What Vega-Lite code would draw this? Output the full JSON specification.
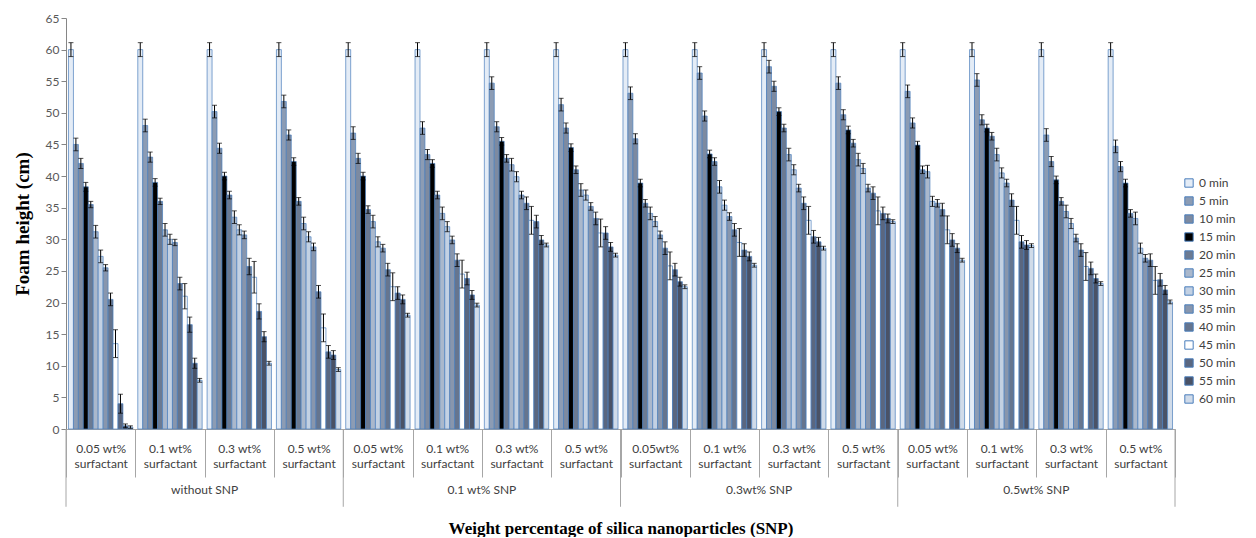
{
"$schema": "https://vega.github.io/schema/vega-lite/v6.json",
"background": "white",
"padding": {"left": 13, "top": 12, "right": 0, "bottom": 0},
"width": 1109,
"height": 411,
"data": {"values": [
{"s":"without SNP","f":"0.05 wt% surfactant","t":"0 min","v":60,"e":1.1},
{"s":"without SNP","f":"0.05 wt% surfactant","t":"5 min","v":45,"e":1},
{"s":"without SNP","f":"0.05 wt% surfactant","t":"10 min","v":42,"e":0.8},
{"s":"without SNP","f":"0.05 wt% surfactant","t":"15 min","v":38.3,"e":0.7},
{"s":"without SNP","f":"0.05 wt% surfactant","t":"20 min","v":35.5,"e":0.5},
{"s":"without SNP","f":"0.05 wt% surfactant","t":"25 min","v":31.2,"e":1},
{"s":"without SNP","f":"0.05 wt% surfactant","t":"30 min","v":27.3,"e":1},
{"s":"without SNP","f":"0.05 wt% surfactant","t":"35 min","v":25.5,"e":0.5},
{"s":"without SNP","f":"0.05 wt% surfactant","t":"40 min","v":20.5,"e":1},
{"s":"without SNP","f":"0.05 wt% surfactant","t":"45 min","v":13.5,"e":2.2},
{"s":"without SNP","f":"0.05 wt% surfactant","t":"50 min","v":4,"e":1.5},
{"s":"without SNP","f":"0.05 wt% surfactant","t":"55 min","v":0.5,"e":0.3},
{"s":"without SNP","f":"0.05 wt% surfactant","t":"60 min","v":0.3,"e":0.2},
{"s":"without SNP","f":"0.1 wt% surfactant","t":"0 min","v":60,"e":1.1},
{"s":"without SNP","f":"0.1 wt% surfactant","t":"5 min","v":48,"e":1},
{"s":"without SNP","f":"0.1 wt% surfactant","t":"10 min","v":43,"e":0.8},
{"s":"without SNP","f":"0.1 wt% surfactant","t":"15 min","v":39,"e":0.6},
{"s":"without SNP","f":"0.1 wt% surfactant","t":"20 min","v":36,"e":0.5},
{"s":"without SNP","f":"0.1 wt% surfactant","t":"25 min","v":31.5,"e":1},
{"s":"without SNP","f":"0.1 wt% surfactant","t":"30 min","v":30,"e":0.8},
{"s":"without SNP","f":"0.1 wt% surfactant","t":"35 min","v":29.5,"e":0.5},
{"s":"without SNP","f":"0.1 wt% surfactant","t":"40 min","v":23,"e":1},
{"s":"without SNP","f":"0.1 wt% surfactant","t":"45 min","v":21,"e":2},
{"s":"without SNP","f":"0.1 wt% surfactant","t":"50 min","v":16.5,"e":1.2},
{"s":"without SNP","f":"0.1 wt% surfactant","t":"55 min","v":10.4,"e":0.8},
{"s":"without SNP","f":"0.1 wt% surfactant","t":"60 min","v":7.7,"e":0.3},
{"s":"without SNP","f":"0.3 wt% surfactant","t":"0 min","v":60,"e":1.1},
{"s":"without SNP","f":"0.3 wt% surfactant","t":"5 min","v":50.2,"e":1},
{"s":"without SNP","f":"0.3 wt% surfactant","t":"10 min","v":44.4,"e":0.8},
{"s":"without SNP","f":"0.3 wt% surfactant","t":"15 min","v":40,"e":0.6},
{"s":"without SNP","f":"0.3 wt% surfactant","t":"20 min","v":37,"e":0.6},
{"s":"without SNP","f":"0.3 wt% surfactant","t":"25 min","v":33.5,"e":1},
{"s":"without SNP","f":"0.3 wt% surfactant","t":"30 min","v":31.5,"e":0.8},
{"s":"without SNP","f":"0.3 wt% surfactant","t":"35 min","v":30.7,"e":0.6},
{"s":"without SNP","f":"0.3 wt% surfactant","t":"40 min","v":25.7,"e":1.3},
{"s":"without SNP","f":"0.3 wt% surfactant","t":"45 min","v":24,"e":2.5},
{"s":"without SNP","f":"0.3 wt% surfactant","t":"50 min","v":18.6,"e":1.2},
{"s":"without SNP","f":"0.3 wt% surfactant","t":"55 min","v":14.6,"e":0.8},
{"s":"without SNP","f":"0.3 wt% surfactant","t":"60 min","v":10.4,"e":0.3},
{"s":"without SNP","f":"0.5 wt% surfactant","t":"0 min","v":60,"e":1.1},
{"s":"without SNP","f":"0.5 wt% surfactant","t":"5 min","v":51.8,"e":1},
{"s":"without SNP","f":"0.5 wt% surfactant","t":"10 min","v":46.5,"e":0.8},
{"s":"without SNP","f":"0.5 wt% surfactant","t":"15 min","v":42.3,"e":0.6},
{"s":"without SNP","f":"0.5 wt% surfactant","t":"20 min","v":36,"e":0.6},
{"s":"without SNP","f":"0.5 wt% surfactant","t":"25 min","v":32.5,"e":1},
{"s":"without SNP","f":"0.5 wt% surfactant","t":"30 min","v":30.4,"e":0.8},
{"s":"without SNP","f":"0.5 wt% surfactant","t":"35 min","v":28.8,"e":0.6},
{"s":"without SNP","f":"0.5 wt% surfactant","t":"40 min","v":21.7,"e":1},
{"s":"without SNP","f":"0.5 wt% surfactant","t":"45 min","v":16,"e":2.2},
{"s":"without SNP","f":"0.5 wt% surfactant","t":"50 min","v":12.2,"e":1},
{"s":"without SNP","f":"0.5 wt% surfactant","t":"55 min","v":11.7,"e":0.7},
{"s":"without SNP","f":"0.5 wt% surfactant","t":"60 min","v":9.4,"e":0.3},
{"s":"0.1 wt% SNP","f":"0.05 wt% surfactant","t":"0 min","v":60,"e":1.1},
{"s":"0.1 wt% SNP","f":"0.05 wt% surfactant","t":"5 min","v":46.8,"e":1},
{"s":"0.1 wt% SNP","f":"0.05 wt% surfactant","t":"10 min","v":42.8,"e":0.8},
{"s":"0.1 wt% SNP","f":"0.05 wt% surfactant","t":"15 min","v":40,"e":0.6},
{"s":"0.1 wt% SNP","f":"0.05 wt% surfactant","t":"20 min","v":34.7,"e":0.6},
{"s":"0.1 wt% SNP","f":"0.05 wt% surfactant","t":"25 min","v":32.8,"e":1},
{"s":"0.1 wt% SNP","f":"0.05 wt% surfactant","t":"30 min","v":29.6,"e":0.8},
{"s":"0.1 wt% SNP","f":"0.05 wt% surfactant","t":"35 min","v":28.6,"e":0.6},
{"s":"0.1 wt% SNP","f":"0.05 wt% surfactant","t":"40 min","v":25.2,"e":1},
{"s":"0.1 wt% SNP","f":"0.05 wt% surfactant","t":"45 min","v":22.5,"e":2.2},
{"s":"0.1 wt% SNP","f":"0.05 wt% surfactant","t":"50 min","v":21.5,"e":1},
{"s":"0.1 wt% SNP","f":"0.05 wt% surfactant","t":"55 min","v":20.5,"e":0.7},
{"s":"0.1 wt% SNP","f":"0.05 wt% surfactant","t":"60 min","v":18,"e":0.3},
{"s":"0.1 wt% SNP","f":"0.1 wt% surfactant","t":"0 min","v":60,"e":1.1},
{"s":"0.1 wt% SNP","f":"0.1 wt% surfactant","t":"5 min","v":47.6,"e":1},
{"s":"0.1 wt% SNP","f":"0.1 wt% surfactant","t":"10 min","v":43.4,"e":0.8},
{"s":"0.1 wt% SNP","f":"0.1 wt% surfactant","t":"15 min","v":42,"e":0.6},
{"s":"0.1 wt% SNP","f":"0.1 wt% surfactant","t":"20 min","v":37,"e":0.6},
{"s":"0.1 wt% SNP","f":"0.1 wt% surfactant","t":"25 min","v":34.1,"e":1},
{"s":"0.1 wt% SNP","f":"0.1 wt% surfactant","t":"30 min","v":32,"e":0.8},
{"s":"0.1 wt% SNP","f":"0.1 wt% surfactant","t":"35 min","v":29.9,"e":0.6},
{"s":"0.1 wt% SNP","f":"0.1 wt% surfactant","t":"40 min","v":26.7,"e":1},
{"s":"0.1 wt% SNP","f":"0.1 wt% surfactant","t":"45 min","v":24.5,"e":2.2},
{"s":"0.1 wt% SNP","f":"0.1 wt% surfactant","t":"50 min","v":23.8,"e":1},
{"s":"0.1 wt% SNP","f":"0.1 wt% surfactant","t":"55 min","v":21.2,"e":0.7},
{"s":"0.1 wt% SNP","f":"0.1 wt% surfactant","t":"60 min","v":19.6,"e":0.3},
{"s":"0.1 wt% SNP","f":"0.3 wt% surfactant","t":"0 min","v":60,"e":1.1},
{"s":"0.1 wt% SNP","f":"0.3 wt% surfactant","t":"5 min","v":54.7,"e":1},
{"s":"0.1 wt% SNP","f":"0.3 wt% surfactant","t":"10 min","v":47.8,"e":0.8},
{"s":"0.1 wt% SNP","f":"0.3 wt% surfactant","t":"15 min","v":45.5,"e":0.6},
{"s":"0.1 wt% SNP","f":"0.3 wt% surfactant","t":"20 min","v":42.8,"e":0.6},
{"s":"0.1 wt% SNP","f":"0.3 wt% surfactant","t":"25 min","v":41.8,"e":1},
{"s":"0.1 wt% SNP","f":"0.3 wt% surfactant","t":"30 min","v":39.9,"e":0.8},
{"s":"0.1 wt% SNP","f":"0.3 wt% surfactant","t":"35 min","v":37,"e":0.6},
{"s":"0.1 wt% SNP","f":"0.3 wt% surfactant","t":"40 min","v":35.7,"e":1},
{"s":"0.1 wt% SNP","f":"0.3 wt% surfactant","t":"45 min","v":33,"e":2.2},
{"s":"0.1 wt% SNP","f":"0.3 wt% surfactant","t":"50 min","v":32.8,"e":1},
{"s":"0.1 wt% SNP","f":"0.3 wt% surfactant","t":"55 min","v":29.9,"e":0.7},
{"s":"0.1 wt% SNP","f":"0.3 wt% surfactant","t":"60 min","v":29.1,"e":0.3},
{"s":"0.1 wt% SNP","f":"0.5 wt% surfactant","t":"0 min","v":60,"e":1.1},
{"s":"0.1 wt% SNP","f":"0.5 wt% surfactant","t":"5 min","v":51.3,"e":1},
{"s":"0.1 wt% SNP","f":"0.5 wt% surfactant","t":"10 min","v":47.6,"e":0.8},
{"s":"0.1 wt% SNP","f":"0.5 wt% surfactant","t":"15 min","v":44.5,"e":0.6},
{"s":"0.1 wt% SNP","f":"0.5 wt% surfactant","t":"20 min","v":41,"e":0.6},
{"s":"0.1 wt% SNP","f":"0.5 wt% surfactant","t":"25 min","v":37.8,"e":1},
{"s":"0.1 wt% SNP","f":"0.5 wt% surfactant","t":"30 min","v":37,"e":0.8},
{"s":"0.1 wt% SNP","f":"0.5 wt% surfactant","t":"35 min","v":35.2,"e":0.6},
{"s":"0.1 wt% SNP","f":"0.5 wt% surfactant","t":"40 min","v":33.3,"e":1},
{"s":"0.1 wt% SNP","f":"0.5 wt% surfactant","t":"45 min","v":31,"e":2.2},
{"s":"0.1 wt% SNP","f":"0.5 wt% surfactant","t":"50 min","v":31,"e":1},
{"s":"0.1 wt% SNP","f":"0.5 wt% surfactant","t":"55 min","v":28.8,"e":0.7},
{"s":"0.1 wt% SNP","f":"0.5 wt% surfactant","t":"60 min","v":27.5,"e":0.3},
{"s":"0.3wt% SNP","f":"0.05wt% surfactant","t":"0 min","v":60,"e":1.1},
{"s":"0.3wt% SNP","f":"0.05wt% surfactant","t":"5 min","v":53.1,"e":1},
{"s":"0.3wt% SNP","f":"0.05wt% surfactant","t":"10 min","v":45.9,"e":0.8},
{"s":"0.3wt% SNP","f":"0.05wt% surfactant","t":"15 min","v":38.9,"e":0.6},
{"s":"0.3wt% SNP","f":"0.05wt% surfactant","t":"20 min","v":35.7,"e":0.6},
{"s":"0.3wt% SNP","f":"0.05wt% surfactant","t":"25 min","v":34.1,"e":1},
{"s":"0.3wt% SNP","f":"0.05wt% surfactant","t":"30 min","v":32.8,"e":0.8},
{"s":"0.3wt% SNP","f":"0.05wt% surfactant","t":"35 min","v":30.7,"e":0.6},
{"s":"0.3wt% SNP","f":"0.05wt% surfactant","t":"40 min","v":28.6,"e":1},
{"s":"0.3wt% SNP","f":"0.05wt% surfactant","t":"45 min","v":25.8,"e":2.2},
{"s":"0.3wt% SNP","f":"0.05wt% surfactant","t":"50 min","v":25.2,"e":1},
{"s":"0.3wt% SNP","f":"0.05wt% surfactant","t":"55 min","v":23.3,"e":0.7},
{"s":"0.3wt% SNP","f":"0.05wt% surfactant","t":"60 min","v":22.5,"e":0.3},
{"s":"0.3wt% SNP","f":"0.1 wt% surfactant","t":"0 min","v":60,"e":1.1},
{"s":"0.3wt% SNP","f":"0.1 wt% surfactant","t":"5 min","v":56.3,"e":1},
{"s":"0.3wt% SNP","f":"0.1 wt% surfactant","t":"10 min","v":49.5,"e":0.8},
{"s":"0.3wt% SNP","f":"0.1 wt% surfactant","t":"15 min","v":43.5,"e":0.6},
{"s":"0.3wt% SNP","f":"0.1 wt% surfactant","t":"20 min","v":42.3,"e":0.6},
{"s":"0.3wt% SNP","f":"0.1 wt% surfactant","t":"25 min","v":38.3,"e":1},
{"s":"0.3wt% SNP","f":"0.1 wt% surfactant","t":"30 min","v":35.4,"e":0.8},
{"s":"0.3wt% SNP","f":"0.1 wt% surfactant","t":"35 min","v":33.6,"e":0.6},
{"s":"0.3wt% SNP","f":"0.1 wt% surfactant","t":"40 min","v":31.5,"e":1},
{"s":"0.3wt% SNP","f":"0.1 wt% surfactant","t":"45 min","v":29.5,"e":2.2},
{"s":"0.3wt% SNP","f":"0.1 wt% surfactant","t":"50 min","v":28.3,"e":1},
{"s":"0.3wt% SNP","f":"0.1 wt% surfactant","t":"55 min","v":27.3,"e":0.7},
{"s":"0.3wt% SNP","f":"0.1 wt% surfactant","t":"60 min","v":25.9,"e":0.3},
{"s":"0.3wt% SNP","f":"0.3 wt% surfactant","t":"0 min","v":60,"e":1.1},
{"s":"0.3wt% SNP","f":"0.3 wt% surfactant","t":"5 min","v":57.3,"e":1},
{"s":"0.3wt% SNP","f":"0.3 wt% surfactant","t":"10 min","v":54.2,"e":0.8},
{"s":"0.3wt% SNP","f":"0.3 wt% surfactant","t":"15 min","v":50.2,"e":0.6},
{"s":"0.3wt% SNP","f":"0.3 wt% surfactant","t":"20 min","v":47.6,"e":0.6},
{"s":"0.3wt% SNP","f":"0.3 wt% surfactant","t":"25 min","v":43.4,"e":1},
{"s":"0.3wt% SNP","f":"0.3 wt% surfactant","t":"30 min","v":41,"e":0.8},
{"s":"0.3wt% SNP","f":"0.3 wt% surfactant","t":"35 min","v":38.1,"e":0.6},
{"s":"0.3wt% SNP","f":"0.3 wt% surfactant","t":"40 min","v":35.7,"e":1},
{"s":"0.3wt% SNP","f":"0.3 wt% surfactant","t":"45 min","v":33,"e":2.2},
{"s":"0.3wt% SNP","f":"0.3 wt% surfactant","t":"50 min","v":30.4,"e":1},
{"s":"0.3wt% SNP","f":"0.3 wt% surfactant","t":"55 min","v":29.6,"e":0.7},
{"s":"0.3wt% SNP","f":"0.3 wt% surfactant","t":"60 min","v":28.6,"e":0.3},
{"s":"0.3wt% SNP","f":"0.5 wt% surfactant","t":"0 min","v":60,"e":1.1},
{"s":"0.3wt% SNP","f":"0.5 wt% surfactant","t":"5 min","v":54.7,"e":1},
{"s":"0.3wt% SNP","f":"0.5 wt% surfactant","t":"10 min","v":49.7,"e":0.8},
{"s":"0.3wt% SNP","f":"0.5 wt% surfactant","t":"15 min","v":47.3,"e":0.6},
{"s":"0.3wt% SNP","f":"0.5 wt% surfactant","t":"20 min","v":45.2,"e":0.6},
{"s":"0.3wt% SNP","f":"0.5 wt% surfactant","t":"25 min","v":42.6,"e":1},
{"s":"0.3wt% SNP","f":"0.5 wt% surfactant","t":"30 min","v":41.2,"e":0.8},
{"s":"0.3wt% SNP","f":"0.5 wt% surfactant","t":"35 min","v":38.1,"e":0.6},
{"s":"0.3wt% SNP","f":"0.5 wt% surfactant","t":"40 min","v":37.3,"e":1},
{"s":"0.3wt% SNP","f":"0.5 wt% surfactant","t":"45 min","v":34.5,"e":2.2},
{"s":"0.3wt% SNP","f":"0.5 wt% surfactant","t":"50 min","v":34.1,"e":1},
{"s":"0.3wt% SNP","f":"0.5 wt% surfactant","t":"55 min","v":33.3,"e":0.7},
{"s":"0.3wt% SNP","f":"0.5 wt% surfactant","t":"60 min","v":32.8,"e":0.3},
{"s":"0.5wt% SNP","f":"0.05 wt% surfactant","t":"0 min","v":60,"e":1.1},
{"s":"0.5wt% SNP","f":"0.05 wt% surfactant","t":"5 min","v":53.4,"e":1},
{"s":"0.5wt% SNP","f":"0.05 wt% surfactant","t":"10 min","v":48.4,"e":0.8},
{"s":"0.5wt% SNP","f":"0.05 wt% surfactant","t":"15 min","v":44.9,"e":0.6},
{"s":"0.5wt% SNP","f":"0.05 wt% surfactant","t":"20 min","v":41,"e":0.6},
{"s":"0.5wt% SNP","f":"0.05 wt% surfactant","t":"25 min","v":40.7,"e":1},
{"s":"0.5wt% SNP","f":"0.05 wt% surfactant","t":"30 min","v":36,"e":0.8},
{"s":"0.5wt% SNP","f":"0.05 wt% surfactant","t":"35 min","v":35.7,"e":0.6},
{"s":"0.5wt% SNP","f":"0.05 wt% surfactant","t":"40 min","v":34.7,"e":1},
{"s":"0.5wt% SNP","f":"0.05 wt% surfactant","t":"45 min","v":31.5,"e":2.2},
{"s":"0.5wt% SNP","f":"0.05 wt% surfactant","t":"50 min","v":29.9,"e":1},
{"s":"0.5wt% SNP","f":"0.05 wt% surfactant","t":"55 min","v":28.6,"e":0.7},
{"s":"0.5wt% SNP","f":"0.05 wt% surfactant","t":"60 min","v":26.7,"e":0.3},
{"s":"0.5wt% SNP","f":"0.1 wt% surfactant","t":"0 min","v":60,"e":1.1},
{"s":"0.5wt% SNP","f":"0.1 wt% surfactant","t":"5 min","v":55.2,"e":1},
{"s":"0.5wt% SNP","f":"0.1 wt% surfactant","t":"10 min","v":48.9,"e":0.8},
{"s":"0.5wt% SNP","f":"0.1 wt% surfactant","t":"15 min","v":47.6,"e":0.6},
{"s":"0.5wt% SNP","f":"0.1 wt% surfactant","t":"20 min","v":46.3,"e":0.6},
{"s":"0.5wt% SNP","f":"0.1 wt% surfactant","t":"25 min","v":43.4,"e":1},
{"s":"0.5wt% SNP","f":"0.1 wt% surfactant","t":"30 min","v":40.5,"e":0.8},
{"s":"0.5wt% SNP","f":"0.1 wt% surfactant","t":"35 min","v":38.9,"e":0.6},
{"s":"0.5wt% SNP","f":"0.1 wt% surfactant","t":"40 min","v":36.2,"e":1},
{"s":"0.5wt% SNP","f":"0.1 wt% surfactant","t":"45 min","v":33,"e":2.2},
{"s":"0.5wt% SNP","f":"0.1 wt% surfactant","t":"50 min","v":29.6,"e":1},
{"s":"0.5wt% SNP","f":"0.1 wt% surfactant","t":"55 min","v":29.1,"e":0.7},
{"s":"0.5wt% SNP","f":"0.1 wt% surfactant","t":"60 min","v":29,"e":0.3},
{"s":"0.5wt% SNP","f":"0.3 wt% surfactant","t":"0 min","v":60,"e":1.1},
{"s":"0.5wt% SNP","f":"0.3 wt% surfactant","t":"5 min","v":46.5,"e":1},
{"s":"0.5wt% SNP","f":"0.3 wt% surfactant","t":"10 min","v":42.3,"e":0.8},
{"s":"0.5wt% SNP","f":"0.3 wt% surfactant","t":"15 min","v":39.4,"e":0.6},
{"s":"0.5wt% SNP","f":"0.3 wt% surfactant","t":"20 min","v":36,"e":0.6},
{"s":"0.5wt% SNP","f":"0.3 wt% surfactant","t":"25 min","v":34.4,"e":1},
{"s":"0.5wt% SNP","f":"0.3 wt% surfactant","t":"30 min","v":32.5,"e":0.8},
{"s":"0.5wt% SNP","f":"0.3 wt% surfactant","t":"35 min","v":30.2,"e":0.6},
{"s":"0.5wt% SNP","f":"0.3 wt% surfactant","t":"40 min","v":28.3,"e":1},
{"s":"0.5wt% SNP","f":"0.3 wt% surfactant","t":"45 min","v":25.7,"e":2.2},
{"s":"0.5wt% SNP","f":"0.3 wt% surfactant","t":"50 min","v":25.4,"e":1},
{"s":"0.5wt% SNP","f":"0.3 wt% surfactant","t":"55 min","v":23.8,"e":0.7},
{"s":"0.5wt% SNP","f":"0.3 wt% surfactant","t":"60 min","v":23,"e":0.3},
{"s":"0.5wt% SNP","f":"0.5 wt% surfactant","t":"0 min","v":60,"e":1.1},
{"s":"0.5wt% SNP","f":"0.5 wt% surfactant","t":"5 min","v":44.7,"e":1},
{"s":"0.5wt% SNP","f":"0.5 wt% surfactant","t":"10 min","v":41.5,"e":0.8},
{"s":"0.5wt% SNP","f":"0.5 wt% surfactant","t":"15 min","v":38.9,"e":0.6},
{"s":"0.5wt% SNP","f":"0.5 wt% surfactant","t":"20 min","v":34.1,"e":0.6},
{"s":"0.5wt% SNP","f":"0.5 wt% surfactant","t":"25 min","v":33.3,"e":1},
{"s":"0.5wt% SNP","f":"0.5 wt% surfactant","t":"30 min","v":28.6,"e":0.8},
{"s":"0.5wt% SNP","f":"0.5 wt% surfactant","t":"35 min","v":27,"e":0.6},
{"s":"0.5wt% SNP","f":"0.5 wt% surfactant","t":"40 min","v":26.7,"e":1},
{"s":"0.5wt% SNP","f":"0.5 wt% surfactant","t":"45 min","v":23.5,"e":2.2},
{"s":"0.5wt% SNP","f":"0.5 wt% surfactant","t":"50 min","v":23.6,"e":1},
{"s":"0.5wt% SNP","f":"0.5 wt% surfactant","t":"55 min","v":22,"e":0.7},
{"s":"0.5wt% SNP","f":"0.5 wt% surfactant","t":"60 min","v":20.1,"e":0.3}
]},
"transform": [
  {"calculate": "datum.s + '|' + datum.f", "as": "g"},
  {"calculate": "datum.v - datum.e", "as": "lo"},
  {"calculate": "datum.v + datum.e", "as": "hi"}
],
"layer": [
  {"mark": {"type": "bar", "stroke": "#4a7ebb", "strokeWidth": 0.7},
   "encoding": {
     "x": {"field": "g", "type": "nominal", "sort": null,
           "title": "Weight percentage of silica nanoparticles (SNP)",
           "scale": {"type": "band", "paddingInner": 0, "paddingOuter": 0},
           "axis": {"labelAngle": 0,
                    "labelExpr": "datum.label ? [replace(split(datum.label, '|')[1], ' surfactant', ''), 'surfactant'] : ''",
                    "labelFont": "Lato", "labelFontSize": 12, "labelColor": "#404040", "labelLineHeight": 15,
                    "tickBand": "extent", "tickSize": 48, "tickColor": "#a6a6a6", "domainColor": "#a6a6a6",
                    "labelPadding": -34,
                    "titleFont": "Liberation Serif", "titleFontSize": 17, "titleFontWeight": "bold",
                    "titleColor": "#000000", "titlePadding": 43}},
     "xOffset": {"field": "t", "type": "nominal", "sort": null,
                 "scale": {"type": "band", "paddingInner": 0, "paddingOuter": 0.5}},
     "y": {"field": "v", "type": "quantitative", "title": "Foam height (cm)", "scale": {"domain": [0, 65]}},
     "color": {"field": "t", "type": "nominal", "sort": null,
               "scale": {"domain": ["0 min","5 min","10 min","15 min","20 min","25 min","30 min","35 min","40 min","45 min","50 min","55 min","60 min"],
                         "range": ["#e4ecf6","#8c9cb4","#7d8aa0","#000000","#6b7a92","#aab8cc","#c3d1e3","#8896ad","#66758e","#ffffff","#5a6780","#4a5266","#d0dbe9"]},
               "legend": {"title": null, "orient": "none", "legendX": 1117, "legendY": 159,
                          "symbolType": "square", "symbolSize": 70, "symbolStrokeColor": "#4a7ebb", "symbolStrokeWidth": 1,
                          "labelFont": "Lato", "labelFontSize": 12, "labelColor": "#404040", "labelOffset": 4, "rowPadding": 4}}
   }},
  {"mark": {"type": "rule", "color": "#000000", "strokeWidth": 1},
   "encoding": {
     "x": {"field": "g", "type": "nominal", "sort": null, "scale": {"type": "band"}},
     "xOffset": {"field": "t", "type": "nominal", "sort": null, "scale": {"type": "band"}},
     "y": {"field": "lo", "type": "quantitative", "title": "Foam height (cm)"},
     "y2": {"field": "hi"}
   }},
  {"mark": {"type": "tick", "color": "#000000", "thickness": 1, "size": 5},
   "encoding": {
     "x": {"field": "g", "type": "nominal", "sort": null, "scale": {"type": "band"}},
     "xOffset": {"field": "t", "type": "nominal", "sort": null, "scale": {"type": "band"}},
     "y": {"field": "hi", "type": "quantitative", "title": "Foam height (cm)"}
   }},
  {"mark": {"type": "tick", "color": "#000000", "thickness": 1, "size": 5},
   "encoding": {
     "x": {"field": "g", "type": "nominal", "sort": null, "scale": {"type": "band"}},
     "xOffset": {"field": "t", "type": "nominal", "sort": null, "scale": {"type": "band"}},
     "y": {"field": "lo", "type": "quantitative", "title": "Foam height (cm)"}
   }},
  {"transform": [{"filter": "datum.t == '0 min' && indexof(datum.f, '0.05') == 0"}],
   "mark": {"type": "rule", "color": "#a6a6a6", "strokeWidth": 1, "clip": false},
   "encoding": {
     "x": {"field": "g", "type": "nominal", "sort": null, "bandPosition": 0, "scale": {"type": "band"}},
     "y": {"datum": 0, "title": "Foam height (cm)"},
     "y2": {"datum": -12.3}
   }},
  {"transform": [{"filter": "datum.t == '0 min' && datum.s == '0.5wt% SNP' && indexof(datum.f, '0.5 ') == 0"}],
   "mark": {"type": "rule", "color": "#a6a6a6", "strokeWidth": 1, "clip": false},
   "encoding": {
     "x": {"field": "g", "type": "nominal", "sort": null, "bandPosition": 1, "scale": {"type": "band"}},
     "y": {"datum": 0, "title": "Foam height (cm)"},
     "y2": {"datum": -12.3}
   }},
  {"transform": [{"filter": "datum.t == '0 min' && indexof(datum.f, '0.1 ') == 0"}],
   "mark": {"type": "text", "font": "Lato", "fontSize": 12, "color": "#404040", "baseline": "middle", "clip": false},
   "encoding": {
     "x": {"field": "g", "type": "nominal", "sort": null, "bandPosition": 1, "scale": {"type": "band"}},
     "y": {"datum": -9.7, "title": "Foam height (cm)"},
     "text": {"field": "s"}
   }}
],
"config": {
  "view": {"stroke": null},
  "axisY": {"tickCount": 13, "grid": false, "titleFont": "Liberation Serif", "titleFontSize": 19,
            "titleFontWeight": "bold", "titleColor": "#000000", "titlePadding": 13,
            "labelFont": "Lato", "labelFontSize": 12, "labelColor": "#595959",
            "domainColor": "#868686", "tickColor": "#868686", "tickSize": 5}
}
}
